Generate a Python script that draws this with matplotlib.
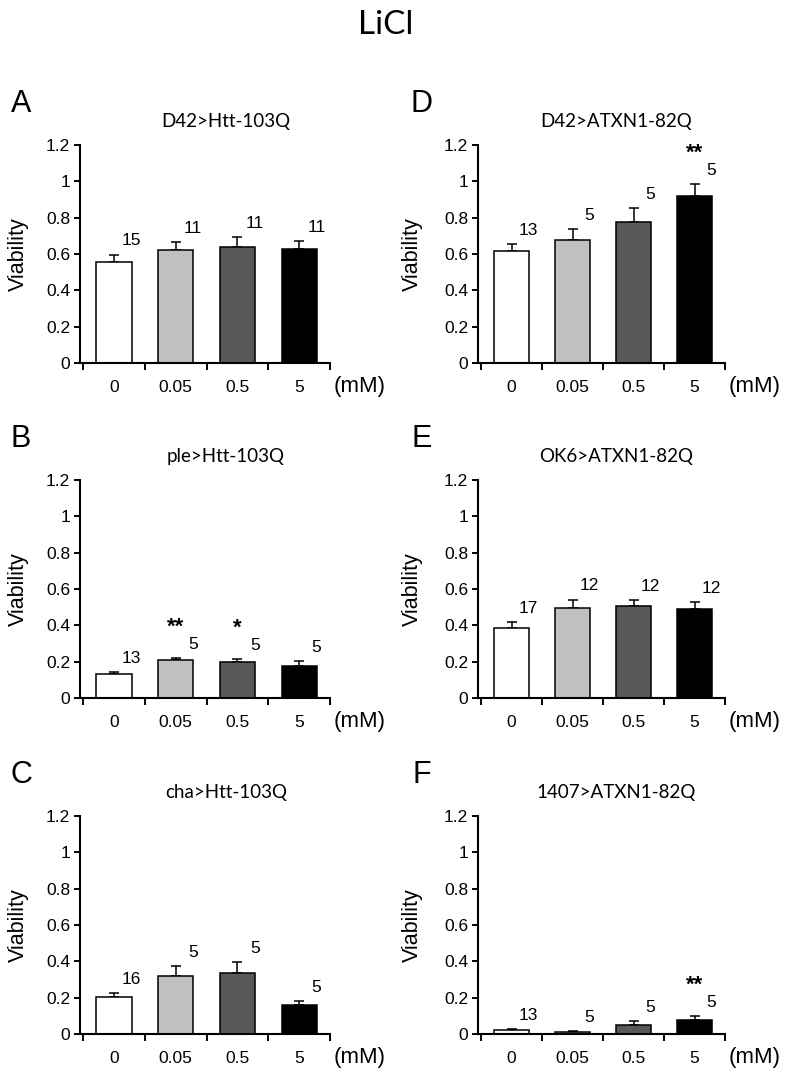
import matplotlib
matplotlib.use("Agg")
import matplotlib.pyplot as plt

# data
letters = ["A", "B", "C", "D", "E", "F"]
titles = ["D42>Htt-103Q", "ple>Htt-103Q", "cha>Htt-103Q",
          "D42>ATXN1-82Q", "OK6>ATXN1-82Q", "1407>ATXN1-82Q"]
doses = ["0", "0.05", "0.5", "5"]
means = [
    [0.557, 0.621, 0.640, 0.630],
    [0.133, 0.209, 0.200, 0.175],
    [0.202, 0.318, 0.336, 0.158],
    [0.617, 0.675, 0.777, 0.921],
    [0.386, 0.493, 0.506, 0.489],
    [0.020, 0.011, 0.051, 0.079],
]
sems = [
    [0.040, 0.043, 0.055, 0.040],
    [0.011, 0.013, 0.012, 0.028],
    [0.024, 0.055, 0.059, 0.022],
    [0.040, 0.064, 0.077, 0.064],
    [0.031, 0.049, 0.033, 0.041],
    [0.006, 0.004, 0.019, 0.018],
]
ns = [
    [15, 11, 11, 11],
    [13, 5, 5, 5],
    [16, 5, 5, 5],
    [13, 5, 5, 5],
    [17, 12, 12, 12],
    [13, 5, 5, 5],
]
stars = [
    ["", "", "", ""],
    ["", "**", "*", ""],
    ["", "", "", ""],
    ["", "", "", "**"],
    ["", "", "", ""],
    ["", "", "", "**"],
]
bar_colors = ["white", "#c0c0c0", "#595959", "black"]

W, H = 787, 1077
fig = plt.figure(figsize=(W / 100, H / 100), dpi=100)
plt.rcParams['font.family'] = ['Liberation Sans', 'DejaVu Sans']

fig.text(386 / W, 1 - 25 / H, "LiCl", family="Lato", fontsize=24,
         ha="center", va="center")

col_left = [80, 478]
col_width = [250, 247]
row_bottom = [363, 698, 1034]
ax_h = 218

for i in range(6):
    col, row = i // 3, i % 3
    rect = [col_left[col] / W, 1 - row_bottom[row] / H,
            col_width[col] / W, ax_h / H]
    ax = fig.add_axes(rect)
    x = range(len(doses))
    ax.bar(x, means[i], width=0.57, color=bar_colors, edgecolor="black",
           linewidth=1.1, zorder=2)
    ax.errorbar(x, means[i], yerr=[[0] * 4, sems[i]], fmt="none",
                ecolor="black", elinewidth=1.1, capsize=3.5, capthick=1.1,
                zorder=1)
    for j in x:
        top = means[i][j] + sems[i][j]
        ax.text(j + 0.28, top + 0.075, str(ns[i][j]), fontsize=12.5,
                ha="center", va="center")
        if stars[i][j]:
            ax.text(j, top + 0.17, stars[i][j], fontsize=16,
                    fontweight="bold", ha="center", va="center")

    ax.set_xlim(-0.55, 3.5)
    ax.set_ylim(0, 1.2)
    ax.set_yticks([0, 0.2, 0.4, 0.6, 0.8, 1.0, 1.2])
    ax.set_yticklabels(["0", "0.2", "0.4", "0.6", "0.8", "1", "1.2"])
    ax.set_xticks([0, 1, 2, 3])
    ax.set_xticklabels(doses)
    ax.set_xticks([-0.5, 0.5, 1.5, 2.5, 3.5], minor=True)
    ax.tick_params(axis="x", which="major", length=0, pad=12,
                   labelsize=12.5)
    ax.tick_params(axis="x", which="minor", length=5, width=1.4,
                   direction="out")
    ax.tick_params(axis="y", length=4, width=1.4, direction="out", pad=3,
                   labelsize=12.5)
    for s in ["top", "right"]:
        ax.spines[s].set_visible(False)
    for s in ["left", "bottom"]:
        ax.spines[s].set_linewidth(1.5)

    ax.set_ylabel("Viability", fontsize=15.5)
    ax.yaxis.set_label_coords(-0.205 if col == 0 else -0.225, 0.5)
    ax.text(1.12, -0.11, "(mM)", transform=ax.transAxes, fontsize=16,
            ha="center", va="center")
    ax.text(0.584 if col == 0 else 0.559, 1.11, titles[i], family="Lato",
            fontsize=13.5, transform=ax.transAxes, ha="center", va="center")
    ax.text(-0.236 if col == 0 else -0.227, 1.19, letters[i],
            transform=ax.transAxes, fontsize=22, ha="center", va="center")

fig.savefig("out.png", dpi=100)
